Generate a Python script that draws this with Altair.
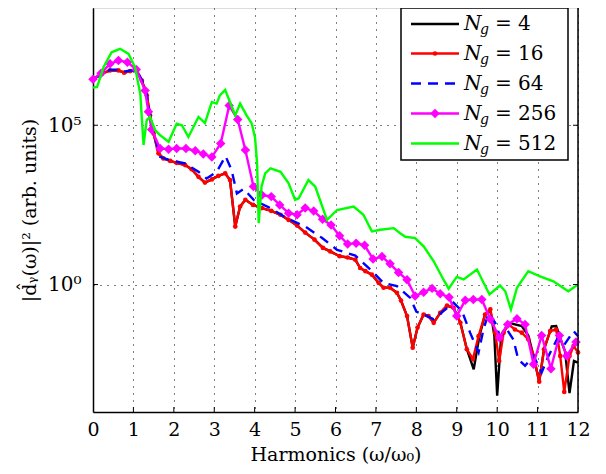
import altair as alt
import pandas as pd

# ---- data (x in harmonics, values given as log10 of |d_y|^2) ----
x_red = [0, 0.22, 0.42, 0.63, 0.77, 0.92, 1.08, 1.21, 1.33, 1.41, 1.5, 1.62, 1.74, 1.91, 2.07,
         2.28, 2.44, 2.61, 2.77, 2.94, 3.1, 3.27, 3.39, 3.52, 3.64, 3.77, 3.96, 4.18, 4.41, 4.64,
         4.84, 5.05, 5.25, 5.48, 5.69, 5.87, 6.1, 6.3, 6.49, 6.61, 6.74, 6.9, 7.07, 7.19, 7.35,
         7.52, 7.62, 7.77, 7.91, 8.03, 8.18, 8.3, 8.43, 8.59, 8.76, 8.92, 9.09, 9.25, 9.4, 9.54,
         9.7, 9.83, 9.95, 10.05, 10.16, 10.28, 10.44, 10.61, 10.77, 10.9, 11.04, 11.16, 11.31,
         11.46, 11.56, 11.66, 11.79, 11.89, 12.0]
l_red = [6.44, 6.62, 6.72, 6.72, 6.65, 6.7, 6.72, 6.4, 5.94, 5.31, 4.74, 4.12, 3.96, 3.88, 3.82,
         3.75, 3.62, 3.38, 3.2, 3.3, 3.41, 3.49, 3.28, 1.82, 2.45, 2.66, 2.5, 2.4, 2.31, 2.19,
         2.03, 1.85, 1.63, 1.41, 1.15, 1.04, 0.89, 0.85, 0.78, 0.52, 0.42, 0.31, 0.05, -0.1, -0.1,
         -0.26, -0.5, -0.99, -1.98, -1.35, -0.94, -0.99, -1.2, -0.89, -0.66, -0.73, -1.2, -2.03,
         -2.34, -1.62, -0.94, -0.78, -1.51, -2.4, -1.51, -1.25, -1.41, -1.51, -1.72, -2.24, -3.05,
         -2.03, -1.46, -1.41, -2.24, -3.37, -2.24, -1.93, -2.13]

x_black = [0, 0.22, 0.42, 0.63, 0.77, 0.92, 1.08, 1.21, 1.33, 1.41, 1.5, 1.62, 1.74, 1.91, 2.07,
           2.28, 2.44, 2.61, 2.77, 2.94, 3.1, 3.27, 3.39, 3.52, 3.64, 3.77, 3.96, 4.18, 4.41, 4.64,
           4.84, 5.05, 5.25, 5.48, 5.69, 5.87, 6.1, 6.3, 6.49, 6.61, 6.74, 6.9, 7.07, 7.19, 7.35,
           7.52, 7.62, 7.77, 7.91, 8.03, 8.18, 8.3, 8.43, 8.59, 8.76, 8.92, 9.09, 9.25, 9.42, 9.56,
           9.7, 9.83, 9.93, 10.0, 10.1, 10.28, 10.44, 10.61, 10.77, 10.9, 11.04, 11.16, 11.35,
           11.46, 11.58, 11.68, 11.79, 11.9, 12.0]
l_black = [6.44, 6.62, 6.72, 6.72, 6.65, 6.7, 6.72, 6.4, 5.94, 5.31, 4.74, 4.12, 3.96, 3.88, 3.82,
           3.75, 3.62, 3.38, 3.2, 3.3, 3.41, 3.49, 3.28, 1.82, 2.45, 2.66, 2.5, 2.4, 2.31, 2.19,
           2.03, 1.85, 1.63, 1.41, 1.15, 1.04, 0.89, 0.85, 0.78, 0.52, 0.42, 0.31, 0.05, -0.1, -0.1,
           -0.26, -0.5, -0.99, -1.98, -1.35, -0.94, -0.99, -1.2, -0.89, -0.66, -0.73, -1.2, -2.03,
           -2.66, -1.62, -0.94, -0.8, -1.6, -3.49, -1.6, -1.2, -1.25, -1.3, -1.6, -2.24, -3.05,
           -2.03, -1.31, -1.3, -1.75, -2.1, -3.41, -2.4, -2.45]

x_blue = [0, 0.22, 0.42, 0.63, 0.77, 0.92, 1.08, 1.21, 1.33, 1.41, 1.5, 1.66, 1.91, 2.28, 2.61,
          2.81, 3.06, 3.28, 3.43, 3.56, 3.73, 3.98, 4.39, 4.8, 5.25, 5.67, 6.04, 6.49, 6.86, 7.19,
          7.52, 7.85, 8.0, 8.2, 8.43, 8.67, 8.92, 9.13, 9.33, 9.54, 9.66, 9.79, 9.95, 10.07, 10.24,
          10.4, 10.52, 10.69, 10.9, 11.1, 11.27, 11.48, 11.64, 11.89, 12.0]
l_blue = [6.44, 6.62, 6.74, 6.74, 6.68, 6.72, 6.72, 6.42, 5.96, 5.35, 4.78, 4.01, 3.9, 3.8, 3.54,
          3.33, 3.54, 4.03, 3.59, 2.86, 3.0, 2.65, 2.4, 2.08, 1.82, 1.46, 1.09, 0.91, 0.47, 0.05,
          -0.05, -0.42, -0.85, -0.95, -1.09, -0.83, -0.57, -0.83, -1.51, -2.13, -1.41, -0.89, -1.2,
          -1.62, -1.41, -1.72, -2.34, -2.55, -2.24, -2.76, -2.24, -1.72, -1.93, -1.46, -1.62]

x_mag = [0, 0.2, 0.42, 0.63, 0.85, 1.07, 1.29, 1.37, 1.45, 1.66, 1.87, 2.07, 2.3, 2.53, 2.73,
         2.94, 3.16, 3.37, 3.58, 3.77, 3.97, 4.18, 4.41, 4.62, 4.84, 5.05, 5.25, 5.46, 5.68, 5.89,
         6.1, 6.3, 6.51, 6.72, 6.93, 7.15, 7.35, 7.56, 7.77, 7.97, 8.18, 8.39, 8.59, 8.81, 9.0,
         9.21, 9.41, 9.62, 9.83, 10.06, 10.26, 10.49, 10.69, 10.9, 11.1, 11.33, 11.54, 11.72, 11.95]
l_mag = [6.44, 6.63, 6.93, 7.03, 6.98, 6.75, 6.09, 5.42, 4.87, 4.27, 4.25, 4.27, 4.27, 4.2, 4.1,
         4.0, 4.43, 5.62, 5.18, 4.22, 3.08, 2.81, 2.76, 2.5, 2.24, 2.19, 2.4, 2.31, 2.05, 1.87,
         1.53, 1.27, 1.3, 1.23, 0.8, 0.88, 0.65, 0.38, 0.15, -0.36, -0.24, -0.12, -0.29, -0.4, -0.99,
         -0.49, -0.47, -0.47, -1.09, -1.67, -1.25, -1.07, -1.25, -2.5, -1.6, -2.64, -1.6, -2.24, -1.8]

x_green = [0, 0.1, 0.26, 0.46, 0.67, 0.88, 1.04, 1.17, 1.25, 1.33, 1.41, 1.54, 1.66, 1.87, 2.07,
           2.2, 2.36, 2.61, 2.77, 2.94, 3.06, 3.14, 3.27, 3.39, 3.52, 3.64, 3.8, 3.93, 4.01, 4.06,
           4.1, 4.17, 4.26, 4.39, 4.64, 4.84, 5.0, 5.09, 5.33, 5.5, 5.79, 6.04, 6.45, 6.69, 6.9,
           7.11, 7.44, 7.6, 7.73, 7.97, 8.18, 8.43, 8.67, 8.8, 9.0, 9.17, 9.5, 9.81, 10.07, 10.2,
           10.34, 10.49, 10.77, 11.06, 11.39, 11.76, 12.0]
l_green = [6.18, 6.2, 6.82, 7.29, 7.4, 7.24, 6.82, 5.99, 4.38, 5.16, 5.26, 4.84, 4.69, 4.48, 5.05,
           5.0, 4.63, 5.26, 5.07, 5.73, 5.68, 5.94, 6.11, 5.73, 5.31, 5.68, 5.31, 5.05, 4.6, 3.8,
           1.93, 3.07, 3.49, 3.65, 3.54, 3.18, 2.66, 2.71, 3.28, 3.07, 2.03, 2.34, 2.45, 2.19, 1.67,
           1.72, 1.77, 1.61, 1.5, 1.46, 1.2, 0.73, 0.16, -0.13, 0.24, 0.16, 0.47, -0.31, -0.03, -0.21,
           -0.78, -0.1, 0.42, 0.26, 0.1, -0.21, 0.0]

x_ticks = list(range(13))
y_ticks = [1, 100000]
legend_labels = ["4", "16", "64", "256", "512"]

W, H = 485, 404
FONT = "'DejaVu Serif', 'Liberation Serif', serif"
LW = 2.4


def frame(xs, ls):
    return pd.DataFrame({"x": xs, "y": [10 ** v for v in ls]})


xscale = alt.Scale(domain=[0, 12], nice=False, zero=False)
yscale = alt.Scale(type="log", domain=[1e-4, 10 ** 8.68], nice=False)

xaxis = alt.Axis(values=x_ticks, format="d", title="Harmonics (ω/ω₀)", grid=True,
                 gridDash=[1, 6], gridColor="#000000", gridWidth=1, tickSize=0,
                 labelFont=FONT, labelFontSize=19, labelColor="#000000", labelPadding=8,
                 labelFlush=False, labelOverlap=False,
                 titleFont=FONT, titleFontSize=19, titleFontWeight="normal",
                 titleColor="#000000", titlePadding=6, domainColor="#000000", domainWidth=1.5)
yaxis = alt.Axis(values=y_ticks, labelExpr="datum.value == 1 ? '10⁰' : '10⁵'",
                 title="|d̂ᵧ(ω)|² (arb. units)", grid=True, gridDash=[1, 6],
                 gridColor="#000000", gridWidth=1, tickSize=0, labelFont=FONT,
                 labelFontSize=20, labelColor="#000000", labelPadding=12, labelFlush=False,
                 titleFont=FONT, titleFontSize=19, titleFontWeight="normal",
                 titleColor="#000000", titlePadding=8, domainColor="#000000", domainWidth=1.5)

X = alt.X("x:Q", scale=xscale, axis=xaxis)
Y = alt.Y("y:Q", scale=yscale, axis=yaxis)


def line(xs, ls, color, dash=None, point=None):
    kw = dict(color=color, strokeWidth=LW)
    if dash:
        kw["strokeDash"] = dash
    if point:
        kw["point"] = point
    return alt.Chart(frame(xs, ls)).mark_line(**kw).encode(x=X, y=Y)


layers = [
    line(x_black, l_black, "#000000"),
    line(x_red, l_red, "#ff0000",
         point=alt.OverlayMarkDef(filled=True, color="#ff0000", size=22)),
    line(x_blue, l_blue, "#0000ff", dash=[10, 7]),
    line(x_mag, l_mag, "#ff00ff",
         point=alt.OverlayMarkDef(filled=True, color="#ff00ff", shape="diamond", size=90)),
    line(x_green, l_green, "#00ff00"),
]

# right border
one = pd.DataFrame({"a": [0]})
layers.append(alt.Chart(one).mark_rule(color="#000000", strokeWidth=1.5).encode(
    x=alt.datum(12, scale=xscale, axis=xaxis), y=alt.value(0), y2=alt.value(H)))

# inward ticks
xt = pd.DataFrame({"x": x_ticks[1:-1]})
layers.append(alt.Chart(xt).mark_rule(color="#000000", strokeWidth=1).encode(
    x=X, y=alt.value(H), y2=alt.value(H - 5)))
yt = pd.DataFrame({"y": y_ticks})
layers.append(alt.Chart(yt).mark_rule(color="#000000", strokeWidth=1).encode(
    y=Y, x=alt.value(0), x2=alt.value(5)))
layers.append(alt.Chart(yt).mark_rule(color="#000000", strokeWidth=1).encode(
    y=Y, x=alt.value(W - 5), x2=alt.value(W)))

# legend (manual)
LX0, LX1, LY0, LY1 = 308, 475, 0, 152
layers.append(alt.Chart(one).mark_rect(fill="#ffffff", stroke="#000000", strokeWidth=1.5).encode(
    x=alt.value(LX0), x2=alt.value(LX1), y=alt.value(LY0), y2=alt.value(LY1)))
styles = [("#000000", None, None), ("#ff0000", None, ("circle", 22)),
          ("#0000ff", [10, 7], None), ("#ff00ff", None, ("diamond", 90)),
          ("#00ff00", None, None)]
rows_y = [16, 45.5, 75.5, 105.5, 135.5]
for lab, (col, dash, mk), cy in zip(legend_labels, styles, rows_y):
    kw = dict(color=col, strokeWidth=LW)
    if dash:
        kw["strokeDash"] = dash
    layers.append(alt.Chart(one).mark_rule(**kw).encode(
        x=alt.value(318), x2=alt.value(366), y=alt.value(cy)))
    if mk:
        layers.append(alt.Chart(one).mark_point(filled=True, color=col, shape=mk[0], size=mk[1],
                                                opacity=1).encode(
            x=alt.value(342), y=alt.value(cy)))
    layers.append(alt.Chart(one).mark_text(text="N", font=FONT, fontStyle="italic", fontSize=20,
                                           align="left", baseline="alphabetic", color="#000000").encode(
        x=alt.value(371), y=alt.value(cy + 6)))
    layers.append(alt.Chart(one).mark_text(text="g", font=FONT, fontStyle="italic", fontSize=14,
                                           align="left", baseline="alphabetic", color="#000000").encode(
        x=alt.value(387), y=alt.value(cy + 10)))
    layers.append(alt.Chart(one).mark_text(text="= " + lab, font=FONT, fontSize=20,
                                           align="left", baseline="alphabetic", color="#000000").encode(
        x=alt.value(402), y=alt.value(cy + 6)))

chart = alt.layer(*layers).properties(
    width=W, height=H,
    autosize=alt.AutoSizeParams(type="none"),
    padding={"left": 85, "top": 0, "right": 20, "bottom": 60},
).configure_view(stroke=None).configure(background="#ffffff")

chart.save("out.html", embed_options={"renderer": "svg", "actions": False})
